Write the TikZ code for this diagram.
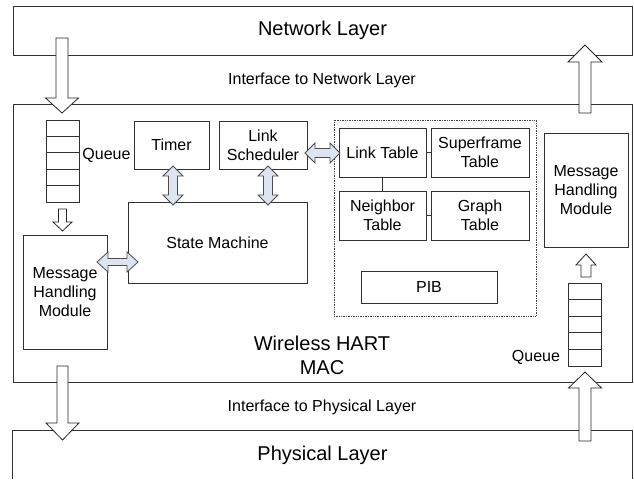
\documentclass[tikz,border=0pt]{standalone}
\usepackage{fontspec}
\setmainfont{Liberation Sans}
\usetikzlibrary{calc}
\definecolor{linec}{RGB}{50,50,50}
\definecolor{dafill}{RGB}{221,229,242}
\newcommand{\sw}{4pt}
\newcommand{\hw}{10pt}
\newcommand{\hl}{10pt}
\tikzset{
  box/.style={draw=linec, line width=0.8pt, rectangle, inner sep=0pt, align=center,
    font=\fontsize{16}{19}\selectfont},
  big/.style={font=\fontsize{20}{24}\selectfont, align=center, inner sep=0pt},
  small/.style={font=\fontsize{16}{19}\selectfont, align=center, inner sep=0pt},
  arrowdims/.code args={#1/#2/#3}{\renewcommand{\sw}{#1pt}\renewcommand{\hw}{#2pt}\renewcommand{\hl}{#3pt}},
  blockarrow/.style={draw=black!85, line width=0.8pt, fill=white, arrowdims=#1,
    to path={
      let \p1=(\tikztostart), \p2=(\tikztotarget),
          \n1={veclen(\x2-\x1,\y2-\y1)}, \n2={atan2(\y2-\y1,\x2-\x1)} in
      {[shift={(\p1)}, rotate=\n2]
        (0pt,-\sw) -- ({\n1*1pt-\hl},-\sw) -- ({\n1*1pt-\hl},-\hw) -- ({\n1*1pt},0pt)
        -- ({\n1*1pt-\hl},\hw) -- ({\n1*1pt-\hl},\sw) -- (0pt,\sw) -- cycle}
    }},
  dblarrow/.style={draw=black!70, line width=0.8pt, fill=dafill, arrowdims=#1,
    to path={
      let \p1=(\tikztostart), \p2=(\tikztotarget),
          \n1={veclen(\x2-\x1,\y2-\y1)}, \n2={atan2(\y2-\y1,\x2-\x1)} in
      {[shift={(\p1)}, rotate=\n2]
        (0pt,0pt) -- (\hl,-\hw) -- (\hl,-\sw) -- ({\n1*1pt-\hl},-\sw) -- ({\n1*1pt-\hl},-\hw) -- ({\n1*1pt},0pt)
        -- ({\n1*1pt-\hl},\hw) -- ({\n1*1pt-\hl},\sw) -- (\hl,\sw) -- (\hl,\hw) -- cycle}
    }},
}
\begin{document}
\begin{tikzpicture}[x=1pt,y=-1pt]
\useasboundingbox (0,0) rectangle (634,479);
% layers
\node[box, minimum width=619pt, minimum height=49pt, font=\fontsize{20}{24}\selectfont] (net) at (322.5,30.5) {Network Layer};
\node[box, minimum width=619pt, minimum height=278pt] (mac) at (322.5,243) {};
\node[inner sep=0pt, minimum width=619pt, minimum height=48pt, font=\fontsize{20}{24}\selectfont] (phy) at (322.5,455) {Physical Layer};
\draw[linec, line width=0.8pt] (phy.south west) |- (phy.north east) -- (phy.south east);
\node[small] (ifnet) at (322,80) {Interface to Network Layer};
\node[small] (ifphy) at (322,407) {Interface to Physical Layer};
\node[big] (maclabel) at (322,355) {Wireless HART\\MAC};
% left side
\node[box, minimum width=33pt, minimum height=82pt] (qL) at (62.5,161) {};
\foreach \k in {1,2,3,4}
  \draw[linec, line width=0.8pt] ($(qL.north west)!\k/5!(qL.south west)$) -- ($(qL.north east)!\k/5!(qL.south east)$);
\node[small] (qLlab) at (106.5,155) {Queue};
\node[box, minimum width=75pt, minimum height=48pt] (timer) at (171.5,145) {Timer};
\node[box, minimum width=88pt, minimum height=48pt] (ls) at (263,145) {Link\\Scheduler};
\node[box, minimum width=179pt, minimum height=81pt] (sm) at (217.5,242.5) {State Machine};
\node[box, minimum width=84pt, minimum height=114pt] (mhmL) at (65,292) {Message\\Handling\\Module};
% PIB group
\node[draw=black!75, densely dotted, line width=0.7pt, minimum width=202pt, minimum height=196pt, inner sep=0pt] (grp) at (435,218) {};
\node[box, minimum width=87pt, minimum height=49pt] (lt) at (382.5,152.5) {Link Table};
\node[box, minimum width=98pt, minimum height=49pt] (sf) at (480,152.5) {Superframe\\Table};
\node[box, minimum width=87pt, minimum height=49pt] (nt) at (382.5,215.5) {Neighbor\\Table};
\node[box, minimum width=98pt, minimum height=49pt] (gt) at (480,215.5) {Graph\\Table};
\node[box, minimum width=136pt, minimum height=32pt] (pib) at (429,287) {PIB};
\draw[linec, line width=0.8pt] (lt.east) -- (sf.west);
\draw[linec, line width=0.8pt] (lt.south) -- (nt.north);
\draw[linec, line width=0.8pt] (nt.east) -- (gt.west);
% right side
\node[box, minimum width=84pt, minimum height=114pt] (mhmR) at (586,190) {Message\\Handling\\Module};
\node[box, minimum width=33pt, minimum height=83pt] (qR) at (584.5,324.5) {};
\foreach \k in {1,2,3,4}
  \draw[linec, line width=0.8pt] ($(qR.north west)!\k/5!(qR.south west)$) -- ($(qR.north east)!\k/5!(qR.south east)$);
\node[small] (qRlab) at (536,357) {Queue};
% arrow end points
\coordinate (a1s) at (62,38);   \coordinate (a1e) at (62,113);
\coordinate (a2s) at (62.5,209); \coordinate (a2e) at (62.5,231);
\coordinate (a3s) at (62.5,366); \coordinate (a3e) at (62.5,440);
\coordinate (a4s) at (585,441); \coordinate (a4e) at (585,372);
\coordinate (a5s) at (585,113); \coordinate (a5e) at (585,45);
\coordinate (a6s) at (586,277); \coordinate (a6e) at (586,254);
\draw[blockarrow=6/16.5/15] (a1s) to (a1e);
\draw[blockarrow=4/9.5/9] (a2s) to (a2e);
\draw[blockarrow=5.5/16.5/17] (a3s) to (a3e);
\draw[blockarrow=6/16.5/16] (a4s) to (a4e);
\draw[blockarrow=6/17/17] (a5s) to (a5e);
\draw[blockarrow=5/10/11] (a6s) to (a6e);
% double arrows
\coordinate (d1s) at (173,166); \coordinate (d1e) at (173,205);
\coordinate (d2s) at (268,166); \coordinate (d2e) at (268,205);
\coordinate (d3s) at (305,153); \coordinate (d3e) at (340,153);
\coordinate (d4s) at (97,262);  \coordinate (d4e) at (138,262);
\draw[dblarrow=4.5/10/10] (d1s) to (d1e);
\draw[dblarrow=4.5/10/10] (d2s) to (d2e);
\draw[dblarrow=4.5/10/10] (d3s) to (d3e);
\draw[dblarrow=3.5/10/11] (d4s) to (d4e);
\end{tikzpicture}
\end{document}
